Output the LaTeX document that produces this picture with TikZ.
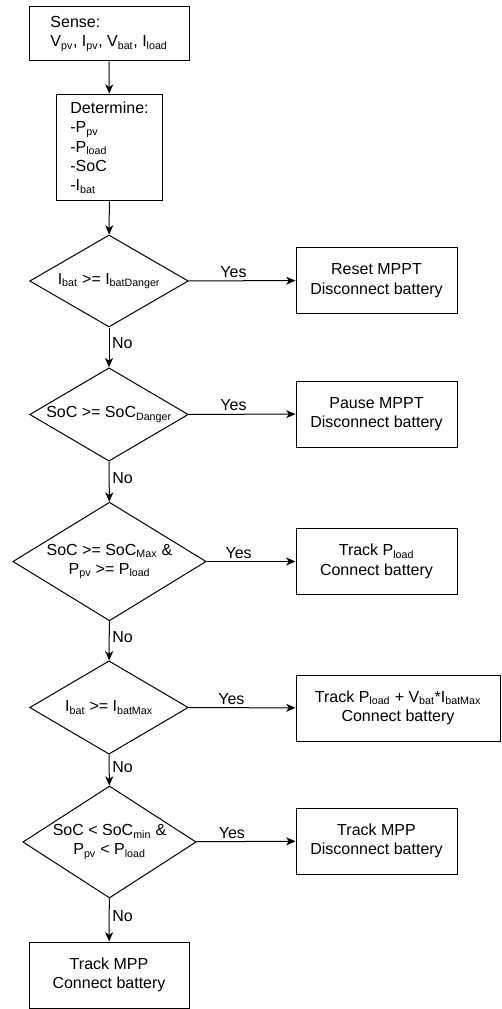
\documentclass[tikz,border=0pt]{standalone}
\usepackage{fontspec}
\setmainfont{Liberation Sans}
\usetikzlibrary{shapes.geometric, arrows.meta}
\tikzset{
  process/.style={draw, line width=0.75pt, align=center, minimum width=120.75pt, minimum height=50pt, inner sep=3pt},
  decision/.style={diamond, draw, line width=0.75pt, align=center, inner sep=0pt},
  flow/.style={line width=0.75pt, -{Stealth[length=7pt, width=6pt, inset=2pt]}},
  yeslabel/.style={above, pos=0.42, inner sep=2pt},
  nolabel/.style={right, pos=0.4, inner sep=2pt},
}
\newcommand{\sbs}[1]{\textsubscript{#1}}

\begin{document}
\begin{tikzpicture}[x=0.75pt, y=-0.75pt, every node/.style={font=\fontsize{12}{14.5}\selectfont}]
  \useasboundingbox (0,0) rectangle (501,1009);
  % main column
  \node[process, align=left, minimum width=120pt, minimum height=40.5pt] (sense) at (109,34)
    {Sense:\\V\sbs{pv}, I\sbs{pv}, V\sbs{bat}, I\sbs{load}};
  \node[process, align=left, minimum width=80pt, minimum height=80pt] (determine) at (109.5,147.5)
    {Determine:\\-P\sbs{pv}\\-P\sbs{load}\\-SoC\\-I\sbs{bat}};
  \node[decision, minimum width=119pt, minimum height=69pt, aspect=1.73] (ibatdanger) at (109,281)
    {I\sbs{bat} >= I\sbs{batDanger}};
  \node[decision, minimum width=119pt, minimum height=70pt, aspect=1.71] (socdanger) at (109,414.5)
    {SoC >= SoC\sbs{Danger}};
  \node[decision, minimum width=145pt, minimum height=89pt, aspect=1.62] (socmax) at (109.5,561.5)
    {SoC >= SoC\sbs{Max} \&\\P\sbs{pv} >= P\sbs{load}};
  \node[decision, minimum width=119pt, minimum height=70pt, aspect=1.71] (ibatmax) at (109,707.5)
    {I\sbs{bat} >= I\sbs{batMax}};
  \node[decision, minimum width=130pt, minimum height=84pt, aspect=1.55] (socmin) at (109.5,842)
    {SoC < SoC\sbs{min} \&\\P\sbs{pv} < P\sbs{load}};
  \node[process, minimum width=120pt, minimum height=49.5pt] (connect) at (109,975)
    {Track MPP\\Connect battery};
  % actions on the right
  \node[process, minimum height=50pt] (reset) at (376.5,280.5) {Reset MPPT\\Disconnect battery};
  \node[process, minimum height=49.5pt] (pause) at (376.5,414) {Pause MPPT\\Disconnect battery};
  \node[process, minimum height=50pt] (trackload) at (376.5,561.5) {Track P\sbs{load}\\Connect battery};
  \node[process, minimum width=153pt, minimum height=49.5pt] (trackmax) at (398,708)
    {Track P\sbs{load} + V\sbs{bat}*I\sbs{batMax}\\Connect battery};
  \node[process, minimum height=49.5pt] (trackmpp) at (376.5,841) {Track MPP\\Disconnect battery};

  \draw[flow] (sense) -- (determine);
  \draw[flow] (determine) -- (ibatdanger);
  \draw[flow] (ibatdanger) -- node[yeslabel] {Yes} (reset);
  \draw[flow] (ibatdanger) -- node[nolabel] {No} (socdanger);
  \draw[flow] (socdanger) -- node[yeslabel] {Yes} (pause);
  \draw[flow] (socdanger) -- node[nolabel] {No} (socmax);
  \draw[flow] (socmax) -- node[yeslabel, pos=0.36] {Yes} (trackload);
  \draw[flow] (socmax) -- node[nolabel] {No} (ibatmax);
  \draw[flow] (ibatmax) -- node[yeslabel, pos=0.4] {Yes} (trackmax);
  \draw[flow] (ibatmax) -- node[nolabel] {No} (socmin);
  \draw[flow] (socmin) -- node[yeslabel, pos=0.36] {Yes} (trackmpp);
  \draw[flow] (socmin) -- node[nolabel] {No} (connect);
\end{tikzpicture}
\end{document}
